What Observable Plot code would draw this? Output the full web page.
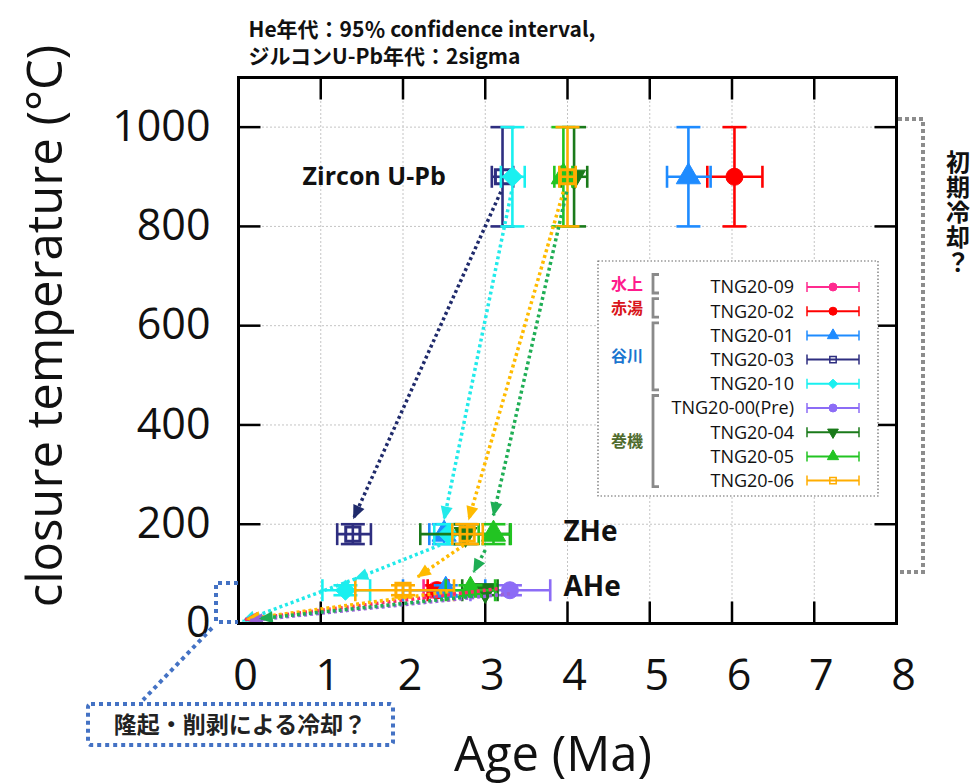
<!DOCTYPE html>
<html><head><meta charset="utf-8">
<script src="https://cdn.jsdelivr.net/npm/d3@7"></script>
<script src="https://cdn.jsdelivr.net/npm/@observablehq/plot@0.6"></script>
<style>
body{margin:0;background:#fff;}
#wrap{position:relative;width:972px;height:784px;overflow:hidden;background:#fff;}
#wrap svg{position:absolute;left:0;top:0;}
</style></head><body><div id="wrap"></div>
<script>
// ---------- data ----------
const samples = ["TNG20-09","TNG20-02","TNG20-01","TNG20-03","TNG20-10","TNG20-00(Pre)","TNG20-04","TNG20-05","TNG20-06"];
const sampleColors = ["#ff2a8f","#ff0000","#1e8bff","#2e2e80","#19f0f0","#8c6cf6","#1a7a1a","#22c422","#ffad00"];
const sampleShapes = ["circle","circle","triangle","square","diamond2","circle","triangle-down","triangle","square"];

const stages = ["Zircon U-Pb","ZHe","AHe"];
const stageTemp = [900,180,67];
const stageTempLow = [800,160,57];
const stageTempHigh = [1000,200,77];
const stageLabelAge = [2.52,3.95,3.95];
const stageLabelTemp = [900,184,73];

const zirconAge     = [null,6.03,5.47,3.21,3.33,null,4.08,3.95,4.00];
const zirconAgeLow  = [null,5.70,5.21,3.08,3.19,null,3.92,3.84,3.90];
const zirconAgeHigh = [null,6.37,5.74,3.34,3.48,null,4.24,4.06,4.10];

const zheAge     = [null,null,2.50,1.39,2.55,null,2.76,3.10,2.78];
const zheAgeLow  = [null,null,2.32,1.20,2.38,null,2.21,2.92,2.60];
const zheAgeHigh = [null,null,2.70,1.61,2.72,null,3.30,3.31,2.97];

const aheAge     = [2.40,2.42,2.52,null,1.30,3.30,3.00,2.82,2.00];
const aheAgeLow  = [2.25,2.30,2.00,null,1.02,2.82,2.72,2.52,1.42];
const aheAgeHigh = [2.55,2.55,3.00,null,1.60,3.79,3.15,3.12,2.62];

// cooling-path arrows (age, temperature)
const arrowColors   = ["#1f2a6b","#22eaea","#ffbb00","#1fae55","#22eaea","#ffbb00","#1fae55","#22eaea","#ff2a6a","#ffbb00","#9a63d8","#1fae55"];
const arrowFromAge  = [3.19,3.32,3.95,3.99,2.45,2.74,3.00,1.42,3.15,2.55,3.30,2.85];
const arrowFromTemp = [870,870,870,870,158,158,148,90,70,64,60,55];
const arrowToAge    = [1.40,2.50,2.80,3.10,1.42,2.18,2.86,0.05,0.08,0.10,0.14,0.26];
const arrowToTemp   = [212,210,210,218,90,94,104,5,8,9,6,10];

const xTicks = [0,1,2,3,4,5,6,7,8];
const yTicks = [0,200,400,600,800,1000];

const groupNames  = ["水上","赤湯","谷川","巻機"];
const groupColors = ["#ff1a8c","#d9151b","#1a75cf","#4f6b2e"];
const groupFirst  = [0,1,2,5];
const groupLast   = [0,1,4,8];

// ---------- helpers ----------
const capV = {draw(ctx,size){const r=Math.sqrt(size/Math.PI);ctx.moveTo(0,-r);ctx.lineTo(0,r);}};
const capH = {draw(ctx,size){const r=Math.sqrt(size/Math.PI);ctx.moveTo(-r,0);ctx.lineTo(r,0);}};
const tickUp = {draw(ctx,size){const r=Math.sqrt(size/Math.PI);ctx.moveTo(0,0);ctx.lineTo(0,-r);}};
const tickDown = {draw(ctx,size){const r=Math.sqrt(size/Math.PI);ctx.moveTo(0,0);ctx.lineTo(0,r);}};
const tickRight = {draw(ctx,size){const r=Math.sqrt(size/Math.PI);ctx.moveTo(0,0);ctx.lineTo(r,0);}};
const tickLeft = {draw(ctx,size){const r=Math.sqrt(size/Math.PI);ctx.moveTo(0,0);ctx.lineTo(-r,0);}};

function markerOpts(shape, color, big){
  const o = {stroke: color, fill: color, strokeWidth: 1};
  if (shape === "square") { o.fill = "none"; o.strokeWidth = big ? 3 : 1.5; o.symbol = "square"; o.r = big ? 8 : 3.6; }
  else if (shape === "triangle-down") { o.symbol = "triangle"; o.rotate = 180; o.r = big ? 8.5 : 4; }
  else if (shape === "triangle") { o.symbol = "triangle"; o.r = big ? 9 : 4.2; }
  else if (shape === "diamond2") { o.symbol = "diamond2"; o.r = big ? 9 : 4.2; }
  else { o.symbol = "circle"; o.r = big ? 8.5 : 4; }
  return o;
}

// ---------- rows ----------
const ageSets = [[zirconAge,zirconAgeLow,zirconAgeHigh],[zheAge,zheAgeLow,zheAgeHigh],[aheAge,aheAgeLow,aheAgeHigh]];
const rowsBySample = samples.map((s,i) => {
  const rows = [];
  ageSets.forEach(([a,lo,hi],k) => {
    if (a[i] != null) rows.push({sample:s, stage:stages[k], age:a[i], lo:lo[i], hi:hi[i], t:stageTemp[k], tlo:stageTempLow[k], thi:stageTempHigh[k]});
  });
  return rows;
});

const sampleMarks = samples.flatMap((s,i) => {
  const rows = rowsBySample[i], c = sampleColors[i], sw = 2.6;
  return [
    Plot.ruleY(rows, {y:"t", x1:"lo", x2:"hi", stroke:c, strokeWidth:sw}),
    Plot.ruleX(rows, {x:"age", y1:"tlo", y2:"thi", stroke:c, strokeWidth:sw}),
    Plot.dot(rows, {x:"lo", y:"t", symbol:capV, r:11, stroke:c, fill:"none", strokeWidth:sw}),
    Plot.dot(rows, {x:"hi", y:"t", symbol:capV, r:11, stroke:c, fill:"none", strokeWidth:sw}),
    Plot.dot(rows, {x:"age", y:"tlo", symbol:capH, r:12, stroke:c, fill:"none", strokeWidth:sw}),
    Plot.dot(rows, {x:"age", y:"thi", symbol:capH, r:12, stroke:c, fill:"none", strokeWidth:sw}),
    Plot.dot(rows, {x:"age", y:"t", ...markerOpts(sampleShapes[i], c, true)})
  ];
});

const arrowIdx = d3.range(arrowColors.length);
const innerX = xTicks.slice(1,-1), innerY = yTicks.slice(1);

const chart = Plot.plot({
  width: 972, height: 784,
  marginLeft: 238, marginRight: 76, marginTop: 77, marginBottom: 161,
  x: {domain: [0,8]},
  y: {domain: [0,1100]},
  style: {fontFamily: "'Open Sans', sans-serif", overflow: "visible", background: "transparent", color: "#000"},
  marks: [
    Plot.gridX(innerX, {stroke:"#c4c4c4", strokeOpacity:1, strokeDasharray:"2,2", strokeWidth:1}),
    Plot.gridY(innerY, {stroke:"#c4c4c4", strokeOpacity:1, strokeDasharray:"2,2", strokeWidth:1}),
    Plot.axisX(xTicks, {tickSize:0, tickPadding:36, fontSize:43, dx:7, label:null, tickFormat:d=>String(d), fill:"#111"}),
    Plot.axisY(yTicks, {tickSize:0, tickPadding:28, fontSize:43, label:null, tickFormat:d=>String(d), fill:"#111"}),
    Plot.dot(innerX, {x:d=>d, frameAnchor:"bottom", symbol:tickUp, r:22, stroke:"#000", fill:"none", strokeWidth:2.5}),
    Plot.dot(innerX, {x:d=>d, frameAnchor:"top", symbol:tickDown, r:22, stroke:"#000", fill:"none", strokeWidth:2.5}),
    Plot.dot(innerY, {y:d=>d, frameAnchor:"left", symbol:tickRight, r:22, stroke:"#000", fill:"none", strokeWidth:2.5}),
    Plot.dot(innerY, {y:d=>d, frameAnchor:"right", symbol:tickLeft, r:22, stroke:"#000", fill:"none", strokeWidth:2.5}),
    ...sampleMarks,
    Plot.link(arrowIdx, {x1:i=>arrowFromAge[i], y1:i=>arrowFromTemp[i], x2:i=>arrowToAge[i], y2:i=>arrowToTemp[i],
      stroke:i=>arrowColors[i], strokeWidth:3.5, strokeDasharray:"3,3", markerEnd:"arrow"}),
    Plot.frame({stroke:"#000", strokeWidth:3}),
    Plot.text([stages[0]], {x:[stageLabelAge[0]], y:[stageLabelTemp[0]], textAnchor:"end", fontWeight:"bold", fontSize:25, fill:"#111"}),
    Plot.text(stages.slice(1), {x:stageLabelAge.slice(1), y:stageLabelTemp.slice(1), textAnchor:"start", fontWeight:"bold", fontSize:28, fill:"#111"}),
    Plot.text(["He年代：95％ confidence interval,"], {frameAnchor:"top-left", textAnchor:"start", dx:10, dy:-55, fontSize:21, fontWeight:"bold", fontFamily:"'Noto Sans CJK JP', sans-serif", fill:"#111"}),
    Plot.text(["ジルコンU-Pb年代：2sigma"], {frameAnchor:"top-left", textAnchor:"start", dx:10, dy:-28, fontSize:21, fontWeight:"bold", fontFamily:"'Noto Sans CJK JP', sans-serif", fill:"#111"})
  ]
});

// solid triangular arrow heads
chart.querySelectorAll("marker").forEach(m => {
  const c = m.getAttribute("stroke");
  m.setAttribute("overflow","visible");
  m.setAttribute("stroke","none");
  m.setAttribute("fill", c);
  m.setAttribute("stroke-dasharray","none");
  const p = m.querySelector("path");
  if (p) p.setAttribute("d","M-5.5,-2.6L0.5,0L-5.5,2.6Z");
});

const wrap = document.getElementById("wrap");
wrap.appendChild(chart);

// ---------- legend + annotations overlay ----------
const ov = d3.create("svg").attr("width",972).attr("height",784).style("pointer-events","none");

// axis titles
ov.append("text").attr("transform","translate(44,326) rotate(-90)").attr("text-anchor","middle").attr("dy","0.36em")
  .attr("font-family","'Open Sans', sans-serif").attr("font-size",49).attr("fill","#111").text("closure temperature (°C)");
ov.append("text").attr("x",553).attr("y",753).attr("text-anchor","middle").attr("dy","0.36em")
  .attr("font-family","'Open Sans', sans-serif").attr("font-size",49).attr("fill","#111").text("Age (Ma)");

const lg = ov.append("g");
lg.append("rect").attr("x",598).attr("y",261).attr("width",280).attr("height",235)
  .attr("fill","#fff").attr("stroke","#666").attr("stroke-width",1.2).attr("stroke-dasharray","1.5,2");
const rowY = i => 287 + i*24.2;
const symMap = {circle:d3.symbolCircle, triangle:d3.symbolTriangle, square:d3.symbolSquare, diamond2:d3.symbolDiamond2};
samples.forEach((s,i) => {
  const y = rowY(i), c = sampleColors[i];
  lg.append("text").attr("x",794).attr("y",y).attr("dy","0.36em").attr("text-anchor","end")
    .attr("font-family","'Open Sans', sans-serif").attr("font-size",18).attr("fill","#111").text(s);
  lg.append("line").attr("x1",807).attr("x2",859).attr("y1",y).attr("y2",y).attr("stroke",c).attr("stroke-width",2);
  lg.append("line").attr("x1",807).attr("x2",807).attr("y1",y-5).attr("y2",y+5).attr("stroke",c).attr("stroke-width",1.5);
  lg.append("line").attr("x1",859).attr("x2",859).attr("y1",y-5).attr("y2",y+5).attr("stroke",c).attr("stroke-width",1.5);
  const o = markerOpts(sampleShapes[i], c, false);
  lg.append("path").attr("d", d3.symbol(symMap[o.symbol], Math.PI*o.r*o.r)())
    .attr("transform",`translate(833,${y}) rotate(${o.rotate||0})`)
    .attr("fill", o.fill).attr("stroke", o.stroke).attr("stroke-width", o.strokeWidth);
});
groupNames.forEach((g,k) => {
  const y1 = rowY(groupFirst[k]) - 12.5, y2 = rowY(groupLast[k]) + 6;
  lg.append("path").attr("d",`M659,${y1}H653V${y2}H659`).attr("fill","none").attr("stroke","#8a8a8a").attr("stroke-width",2.8);
  lg.append("text").attr("x",627).attr("y",(y1+y2)/2).attr("dy","0.36em").attr("text-anchor","middle")
    .attr("font-family","'Noto Sans CJK JP', sans-serif").attr("font-weight","bold").attr("font-size",16)
    .attr("fill",groupColors[k]).text(g);
});

// right bracket "initial cooling?"
ov.append("path").attr("d","M898,119H923V572H898").attr("fill","none").attr("stroke","#8c8c8c")
  .attr("stroke-width",4).attr("stroke-dasharray","4,3");
ov.append("text").attr("x",958).attr("y",150).attr("writing-mode","tb").style("writing-mode","vertical-rl")
  .style("letter-spacing","1px")
  .attr("font-family","'Noto Sans CJK JP', sans-serif").attr("font-weight","bold")
  .attr("font-size",24).attr("fill","#111").text("初期冷却？");

// origin bracket + connector + bottom box
const blue = "#4472c4";
ov.append("path").attr("d","M238,583H216V622H238").attr("fill","none").attr("stroke",blue).attr("stroke-width",4).attr("stroke-dasharray","4,4");
ov.append("path").attr("d","M212,628L143,700").attr("fill","none").attr("stroke",blue).attr("stroke-width",4).attr("stroke-dasharray","4,4");
ov.append("rect").attr("x",88).attr("y",704).attr("width",305).attr("height",41).attr("rx",3)
  .attr("fill","#fff").attr("stroke",blue).attr("stroke-width",4).attr("stroke-dasharray","4,4");
ov.append("text").attr("x",240).attr("y",725).attr("dy","0.36em").attr("text-anchor","middle")
  .attr("font-family","'Noto Sans CJK JP', sans-serif").attr("font-weight","bold").attr("font-size",23)
  .attr("fill","#222").text("隆起・削剥による冷却？");

wrap.appendChild(ov.node());
</script>
</body></html>
